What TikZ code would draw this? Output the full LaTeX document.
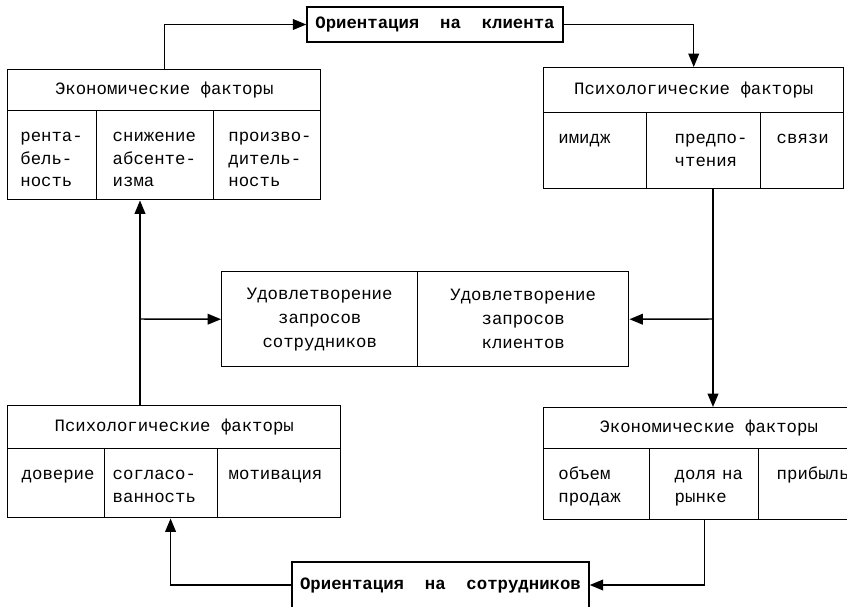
\documentclass[tikz,border=0pt]{standalone}
\usepackage{fontspec}
\usetikzlibrary{arrows.meta}
\newfontfamily\mono{Liberation Mono}

\tikzset{
  box/.style={draw, anchor=north west, inner sep=0pt, font=\mono\fontsize{13}{17}\selectfont},
  head/.style 2 args={box, minimum width=#1, minimum height=#2},
  cell/.style={box, align=left, inner xsep=11pt, text height=23pt, text depth=#1,
    execute at begin node={\exhyphenpenalty=10000\hbadness=10000\hfuzz=20pt}},
  half/.style={box, align=center, minimum height=71.25pt, font=\mono\fontsize{13}{18}\selectfont},
  orient/.style={draw, inner sep=0pt, font=\mono\bfseries\fontsize{13}{17}\selectfont},
  arr/.style={-{Triangle[length=10pt,width=8pt]}},
}

\begin{document}
\begin{tikzpicture}[x=0.75pt, y=-0.75pt, line width=1.1pt]
  \useasboundingbox (0,0) rectangle (847,607);
  \clip (0,0) rectangle (847,607);

  % orientation boxes
  \node[orient, minimum width=192pt, minimum height=26.25pt] (orC) at (435,24.5) {Ориентация\ \ на\ \ клиента};
  \node[orient, minimum width=222.75pt, minimum height=34.5pt] (orS) at (440.5,585) {Ориентация\ \ на\ \ сотрудников};

  % economic factors, top left
  \node[head={234.75pt}{30.75pt}] (ecoL) at (7,69) {Экономические факторы};
  \node[cell=43.75pt, text width=47.75pt, inner xsep=9.5pt] (ecoL1) at (7,110) {рента-\\бель-\\ность};
  \node[cell=43.75pt, text width=63.75pt, inner xsep=12pt] (ecoL2) at (96,110) {снижение\\абсенте-\\изма};
  \node[cell=43.75pt, text width=58.25pt] (ecoL3) at (213,110) {произво-\\дитель-\\ность};

  % psychological factors, top right
  \node[head={225pt}{33.75pt}] (psyR) at (543,67) {Психологические факторы};
  \node[cell=34pt, text width=55.25pt] (psyR1) at (543,112) {имидж};
  \node[cell=34pt, text width=43.5pt, inner xsep=21pt] (psyR2) at (646,112) {предпо-\\чтения};
  \node[cell=34pt, text width=38.25pt, inner xsep=12pt] (psyR3) at (760,112) {связи};

  % satisfaction
  \node[half, minimum width=147pt] (satL) at (221,271) {Удовлетворение\\запросов\\сотрудников};
  \node[half, minimum width=158.25pt] (satR) at (417,271) {Удовлетворение\\запросов\\клиентов};

  % psychological factors, bottom left
  \node[head={249.75pt}{32.25pt}] (psyL) at (7,405) {Психологические факторы};
  \node[cell=28.75pt, text width=51.75pt, inner xsep=10.5pt] (psyL1) at (7,448) {доверие};
  \node[cell=28.75pt, text width=72.75pt, inner xsep=6pt] (psyL2) at (104,448) {согласо-\\ванность};
  \node[cell=28.75pt, text width=75.75pt, inner xsep=8.25pt] (psyL3) at (217,448) {мотивация};

  % economic factors, bottom right
  \node[head={247.5pt}{30.75pt}] (ecoR) at (543,407) {Экономические факторы};
  \node[cell=30.25pt, text width=57.5pt] (ecoR1) at (543,448) {объем\\продаж};
  \node[cell=30.25pt, text width=44.25pt, inner xsep=18.75pt] (ecoR2) at (649,448) {доля~на\\рынке};
  \node[cell=30.25pt, text width=59.25pt, inner xsep=13.5pt] (ecoR3) at (758,448) {прибыль};

  \coordinate (splitL) at (140,319);
  \coordinate (splitR) at (713,319);

  \draw[arr] (ecoL.north) |- (orC.west);
  \draw[arr] (orC.east) -| (psyR.north);
  \draw[arr] (psyR2.south -| splitR) -- (ecoR.north -| splitR);
  \draw[arr] (splitR) -- (satR.east);
  \draw[arr] (ecoR2.south) |- (orS.east);
  \draw[arr] (orS.west) -| ([xshift=7pt]psyL2.south);
  \draw[arr] (psyL.north -| splitL) -- (ecoL2.south -| splitL);
  \draw[arr] (splitL) -- (satL.west);
\end{tikzpicture}
\end{document}
